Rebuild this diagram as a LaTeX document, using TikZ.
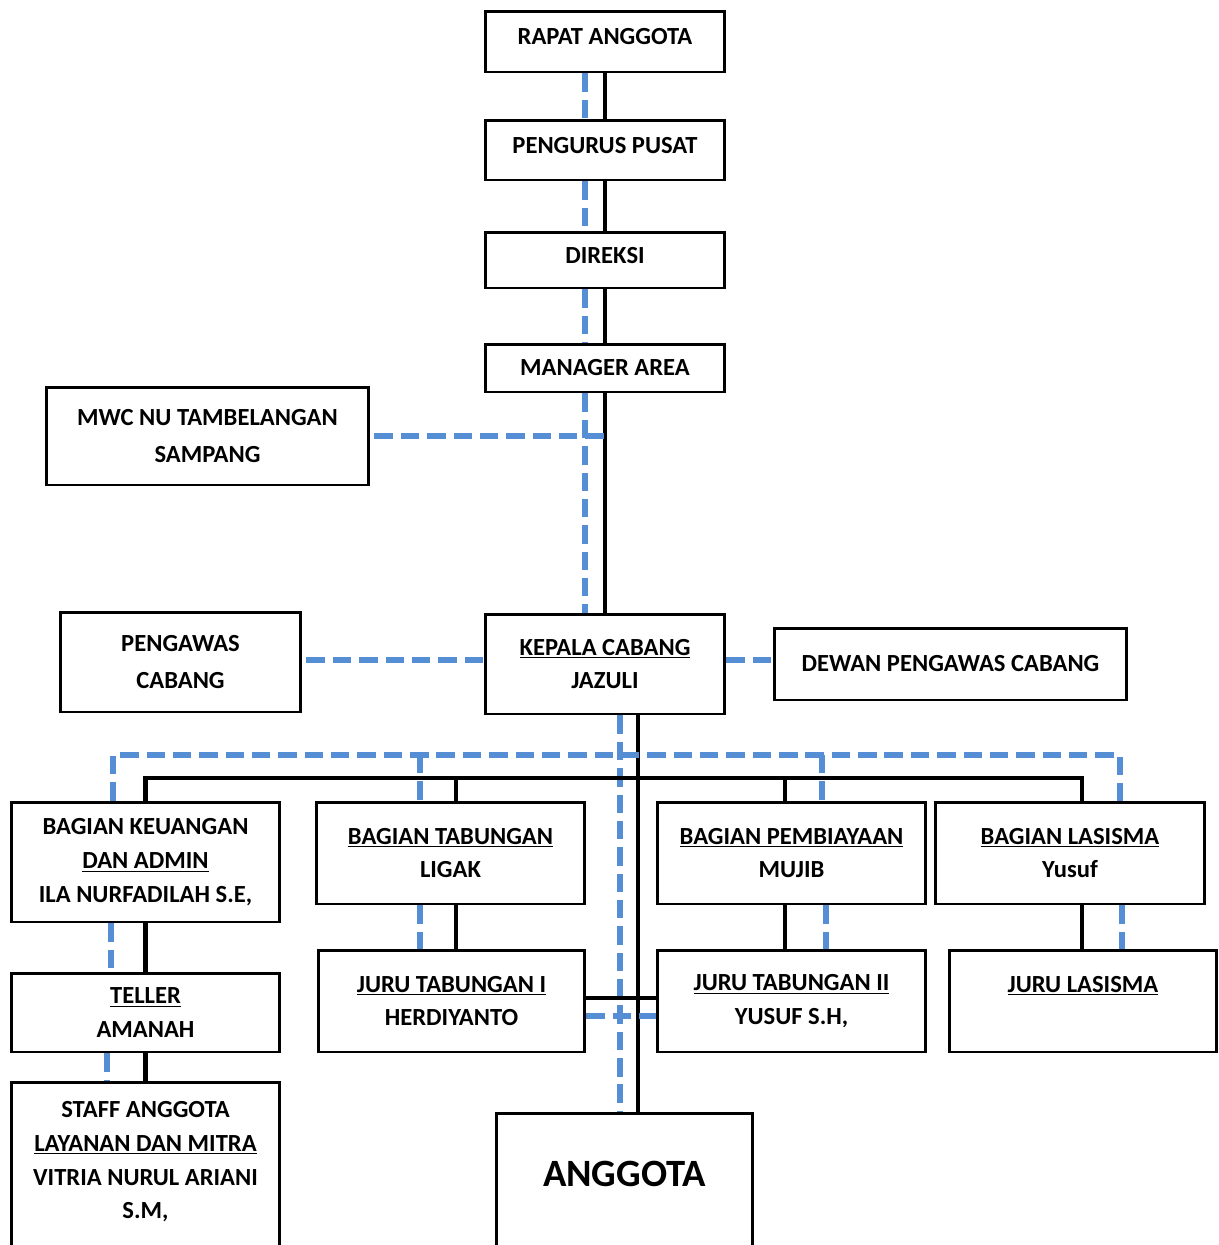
\documentclass[tikz,border=0pt]{standalone}
\usepackage{fontspec}
\setmainfont{Carlito}
\usetikzlibrary{calc,positioning}
\definecolor{dashblue}{RGB}{85,142,213}

\begin{document}
\begin{tikzpicture}[x=0.02cm,y=-0.02cm,
    orgbox/.style={draw=black,line width=1.7pt,fill=white,align=center,inner sep=0pt,
                   font=\bfseries\fontsize{14}{19.3}\selectfont},
    tie/.style={black,line width=2.4pt},
    link/.style={dashblue,line width=3.3pt,dash pattern=on 10.5pt off 4.5pt}]
    \clip (0,0) rectangle (1219,1245);
    \fill [white] (0,0) rectangle (1219,1245);
    % top chain
    \node [orgbox,minimum width=4.8cm,minimum height=1.22cm] (rapat) at (605,41.5) {RAPAT ANGGOTA\\[-13.5pt]\mbox{}};
    \node [orgbox,minimum width=4.8cm,minimum height=1.2cm] (pengurus) at (605,150) {PENGURUS PUSAT\\[-14.5pt]\mbox{}};
    \node [orgbox,minimum width=4.8cm,minimum height=1.12cm] (direksi) at (605,260) {DIREKSI\\[-14.5pt]\mbox{}};
    \node [orgbox,minimum width=4.8cm,minimum height=0.96cm] (manager) at (605,368) {MANAGER AREA};
    \node [orgbox,minimum width=6.46cm,minimum height=1.96cm] (mwc) at (207.5,436) {MWC NU TAMBELANGAN\\[1.5pt]SAMPANG};
    \node [orgbox,minimum width=4.82cm,minimum height=2cm] (pengawas) at (180.5,662) {PENGAWAS\\[2pt]CABANG};
    \node [orgbox,minimum width=4.8cm,minimum height=2cm] (kepala) at (605,664) {\underline{KEPALA CABANG}\\JAZULI};
    \node [orgbox,minimum width=7.06cm,minimum height=1.44cm] (dewan) at (950.5,664) {DEWAN PENGAWAS CABANG};
    % bagian
    \node [orgbox,minimum width=5.38cm,minimum height=2.4cm] (keuangan) at (145.5,862) {BAGIAN KEUANGAN\\\underline{DAN ADMIN}\\ILA NURFADILAH S.E,};
    \node [orgbox,minimum width=5.38cm,minimum height=2.04cm] (tabungan) at (450.5,853) {\underline{BAGIAN TABUNGAN}\\LIGAK};
    \node [orgbox,minimum width=5.38cm,minimum height=2.04cm] (pembiayaan) at (791.5,853) {\underline{BAGIAN PEMBIAYAAN}\\MUJIB};
    \node [orgbox,minimum width=5.4cm,minimum height=2.04cm] (lasisma) at (1070,853) {\underline{BAGIAN LASISMA}\\Yusuf};
    % lower row
    \node [orgbox,minimum width=5.38cm,minimum height=1.58cm] (teller) at (145.5,1012.5) {\underline{TELLER}\\AMANAH};
    \node [orgbox,minimum width=5.34cm,minimum height=2.04cm] (juru1) at (451.5,1001) {\underline{JURU TABUNGAN I}\\HERDIYANTO};
    \node [orgbox,minimum width=5.38cm,minimum height=2.04cm] (juru2) at (791.5,1001) {\underline{JURU TABUNGAN II}\\YUSUF S.H,};
    \node [orgbox,minimum width=5.36cm,minimum height=2.04cm] (jurulas) at (1083,1001) {\underline{JURU LASISMA}\\\mbox{}};
    \node [orgbox,minimum width=5.38cm,minimum height=3.8cm] (staff) at (145.5,1177) {STAFF ANGGOTA\\\underline{LAYANAN DAN MITRA}\\VITRIA NURUL ARIANI\\S.M,\\\mbox{}};
    \node [orgbox,minimum width=5.14cm,minimum height=2.8cm,font=\bfseries\fontsize{22}{26}\selectfont] (anggota) at (624.5,1183) {ANGGOTA\\[-16pt]\mbox{}};
    % spine
    \draw [tie] (rapat.south) -- (pengurus.north);
    \draw [tie] (pengurus.south) -- (direksi.north);
    \draw [tie] (direksi.south) -- (manager.north);
    \draw [tie] (manager.south) -- (kepala.north);
    \draw [link] ($(rapat.south)+(-20,0)$) -- ($(pengurus.north)+(-20,0)$);
    \draw [link] ($(pengurus.south)+(-20,0)$) -- ($(direksi.north)+(-20,0)$);
    \draw [link] ($(direksi.south)+(-20,0)$) -- ($(manager.north)+(-20,0)$);
    \draw [link] ($(manager.south)+(-20,0)$) -- ($(kepala.north)+(-20,0)$);
    \coordinate (mwcjoin) at (manager.south |- mwc.east);
    \draw [link] ($(mwc.east)+(4,0)$) -- (mwcjoin);
    \draw [link] ($(pengawas.east)+(4,-2)$) -- ($(pengawas.east -| kepala.west)+(0,-2)$);
    \draw [link] ($(kepala.east |- dewan.west)+(0,-4)$) -- ($(dewan.west)+(0,-4)$);
    % down to anggota
    \coordinate (kb) at ($(kepala.south)+(33,0)$);
    \coordinate (kd) at ($(kepala.south)+(15,0)$);
    \draw [tie] (kb) -- (kb |- anggota.north);
    \draw [link] (kd) -- (kd |- anggota.north);
    % bus to bagian
    \coordinate (bus) at (0,778);
    \coordinate (dbus) at (0,755);
    \coordinate (tabdrop) at ($(tabungan.north)+(5.5,0)$);
    \coordinate (pemdrop) at ($(pembiayaan.north)+(-6.5,0)$);
    \coordinate (lasdrop) at ($(lasisma.north)+(12,0)$);
    \draw [tie] (keuangan.north) -- (keuangan.north |- bus) -- (lasdrop |- bus) -- (lasdrop);
    \draw [tie] (tabdrop |- bus) -- (tabdrop);
    \draw [tie] (pemdrop |- bus) -- (pemdrop);
    \coordinate (keudash) at ($(keuangan.north)+(-32.5,0)$);
    \coordinate (tabdash) at ($(tabungan.north)+(-30.5,0)$);
    \coordinate (pemdash) at ($(pembiayaan.north)+(30.5,0)$);
    \coordinate (lasdash) at ($(lasisma.north)+(50,0)$);
    \draw [link] (keudash) -- (keudash |- dbus) -- (lasdash |- dbus) -- (lasdash);
    \draw [link] (tabdash |- dbus) -- (tabdash);
    \draw [link] (pemdash |- dbus) -- (pemdash);
    % bagian to staff
    \draw [tie] (keuangan.south) -- (teller.north);
    \draw [tie] (teller.south) -- (staff.north);
    \draw [link] ($(keuangan.south)+(-34.5,0)$) -- ($(teller.north)+(-34.5,0)$);
    \draw [link] ($(teller.south)+(-38.5,0)$) -- ($(staff.north)+(-38.5,0)$);
    \coordinate (tabdown) at ($(tabungan.south)+(5.5,0)$);
    \coordinate (pemdown) at ($(pembiayaan.south)+(-6.5,0)$);
    \coordinate (lasdown) at ($(lasisma.south)+(12,0)$);
    \draw [tie] (tabdown) -- (tabdown |- juru1.north);
    \draw [tie] (pemdown) -- (pemdown |- juru2.north);
    \draw [tie] (lasdown) -- (lasdown |- jurulas.north);
    \coordinate (tabdd) at ($(tabungan.south)+(-30.5,0)$);
    \coordinate (pemdd) at ($(pembiayaan.south)+(34.5,0)$);
    \coordinate (lasdd) at ($(lasisma.south)+(52,0)$);
    \draw [link] (tabdd) -- (tabdd |- juru1.north);
    \draw [link] (pemdd) -- (pemdd |- juru2.north);
    \draw [link] (lasdd) -- (lasdd |- jurulas.north);
    % juru link
    \draw [tie] ($(juru1.east)+(0,-3)$) -- ($(juru2.west)+(0,-3)$);
    \draw [link] ($(juru1.east)+(0,15)$) -- ($(juru2.west)+(0,15)$);
\end{tikzpicture}
\end{document}
